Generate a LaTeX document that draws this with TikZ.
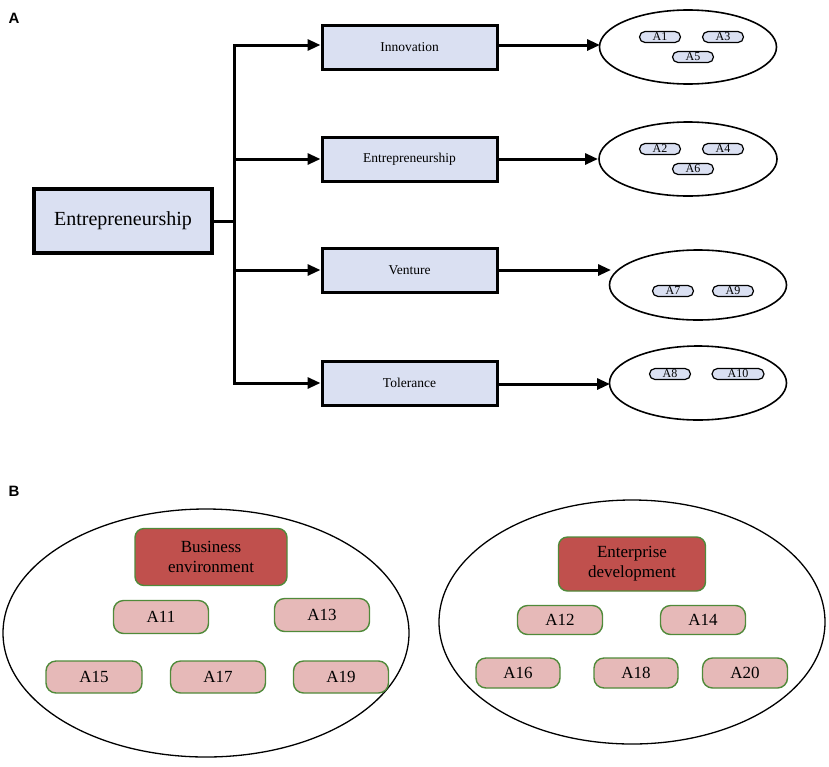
\documentclass[tikz,border=0pt]{standalone}
\usepackage{fontspec}
\setmainfont{Liberation Serif}
\setsansfont{Liberation Sans}
\usetikzlibrary{arrows.meta,shapes.geometric}
\definecolor{boxblue}{RGB}{218,224,242}
\definecolor{darkred}{RGB}{192,80,77}
\definecolor{pink}{RGB}{230,185,184}
\definecolor{grn}{RGB}{80,138,58}
\tikzset{
  mainbox/.style={draw=black,line width=3.3pt,fill=boxblue,minimum width=178pt,minimum height=64pt,font=\fontsize{20}{24}\selectfont,inner sep=0pt},
  subbox/.style={draw=black,line width=3pt,fill=boxblue,minimum width=175pt,minimum height=44pt,font=\fontsize{13.5}{16}\selectfont,inner sep=0pt},
  grp/.style={draw=black,line width=1.6pt,ellipse,inner sep=0pt},
  pill/.style={draw=black,line width=1.2pt,fill=boxblue,rounded corners=5.5pt,minimum width=41pt,minimum height=11pt,inner sep=0pt,font=\fontsize{12}{12}\selectfont},
  bigell/.style={draw=black,line width=1.3pt,ellipse,inner sep=0pt},
  headbox/.style={draw=grn,line width=1.4pt,fill=darkred,rounded corners=9pt,align=center,inner sep=0pt,font=\fontsize{17}{20}\selectfont},
  itembox/.style={draw=grn,line width=1.4pt,fill=pink,rounded corners=10pt,inner sep=0pt,font=\fontsize{17}{20}\selectfont},
  conn/.style={line width=3pt},
  arr/.style={line width=3pt,-{Triangle[length=13pt,width=11pt]}},
  panel/.style={font=\sffamily\bfseries\fontsize{15}{17}\selectfont}
}
\begin{document}
\begin{tikzpicture}[x=1pt,y=-1pt]
\useasboundingbox (0,0) rectangle (829,766);
\node[panel] (labA) at (14,18) {A};
\node[panel] (labB) at (14,491) {B};
% panel A
\node[mainbox] (main) at (123,221) {Entrepreneurship};
\coordinate (j) at (234,221);
\coordinate (t1) at (234,45);
\coordinate (t2) at (234,159);
\coordinate (t3) at (234,270);
\coordinate (t4) at (234,383);
\node[subbox] (b1) at (409.5,47) {Innovation};
\node[subbox] (b2) at (409.5,159) {Entrepreneurship};
\node[subbox] (b3) at (409.5,270) {Venture};
\node[subbox] (b4) at (409.5,383) {Tolerance};
\draw[conn] (main.east) -- (j);
\draw[conn,line cap=rect] (t1) -- (t4);
\draw[arr] (t1) -- (t1 -| b1.west);
\draw[arr] (t2) -- (b2.west);
\draw[arr] (t3) -- (b3.west);
\draw[arr] (t4) -- (b4.west);
\node[grp,minimum width=177pt,minimum height=74pt] (e1) at (688,47) {};
\node[grp,minimum width=178pt,minimum height=74pt] (e2) at (688,159) {};
\node[grp,minimum width=177pt,minimum height=70pt] (e3) at (698,285) {};
\node[grp,minimum width=177pt,minimum height=74pt] (e4) at (698,383) {};
\coordinate (e1w) at (600,45);
\coordinate (e2w) at (598,159);
\coordinate (e3w) at (611,270);
\coordinate (e4w) at (610,384);
\draw[arr] (b1.east |- e1w) -- (e1w);
\draw[arr] (b2.east) -- (e2w);
\draw[arr] (b3.east) -- (e3w);
\draw[arr] (b4.east |- e4w) -- (e4w);
\node[pill] (a1) at (660,37) {A1};
\node[pill] (a3) at (723,37) {A3};
\node[pill] (a5) at (693,57) {A5};
\node[pill] (a2) at (660,149) {A2};
\node[pill] (a4) at (723,149) {A4};
\node[pill] (a6) at (693,169) {A6};
\node[pill] (a7) at (673,291) {A7};
\node[pill] (a9) at (733,291) {A9};
\node[pill] (a8) at (670,374) {A8};
\node[pill,minimum width=52pt] (a10) at (738,374) {A10};
% panel B
\node[bigell,minimum width=406pt,minimum height=248pt] (E1) at (206,633) {};
\node[bigell,minimum width=386pt,minimum height=244pt] (E2) at (632,622) {};
\node[headbox,minimum width=152pt,minimum height=57pt] (h1) at (211,557) {Business\\environment};
\node[headbox,minimum width=147pt,minimum height=54pt] (h2) at (632,564) {Enterprise\\development};
\node[itembox,minimum width=95pt,minimum height=33pt] (a11) at (161,617) {A11};
\node[itembox,minimum width=95pt,minimum height=33pt] (a13) at (322,615) {A13};
\node[itembox,minimum width=96pt,minimum height=32pt] (a15) at (94,677) {A15};
\node[itembox,minimum width=95pt,minimum height=32pt] (a17) at (218,677) {A17};
\node[itembox,minimum width=95pt,minimum height=32pt] (a19) at (341,677) {A19};
\node[itembox,minimum width=85pt,minimum height=29pt] (a12) at (560,620) {A12};
\node[itembox,minimum width=85pt,minimum height=29pt] (a14) at (703,620) {A14};
\node[itembox,minimum width=84pt,minimum height=30pt] (a16) at (518,673) {A16};
\node[itembox,minimum width=84pt,minimum height=30pt] (a18) at (636,673) {A18};
\node[itembox,minimum width=85pt,minimum height=30pt] (a20) at (745,673) {A20};
\end{tikzpicture}
\end{document}
